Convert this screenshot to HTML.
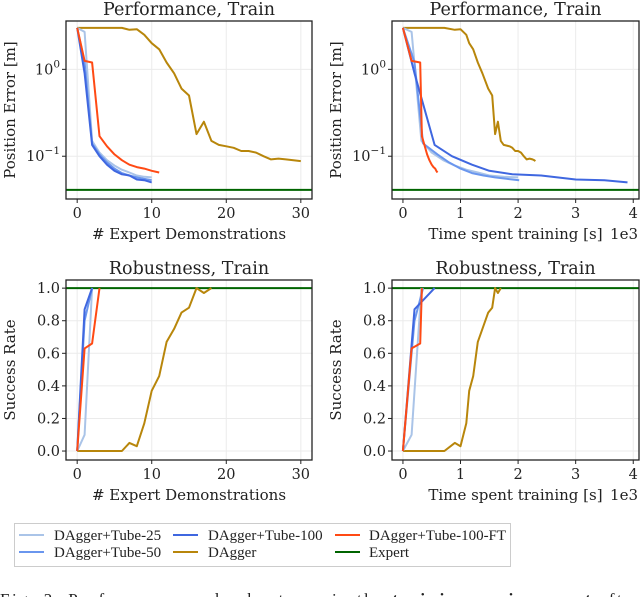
<!DOCTYPE html>
<html><head><meta charset="utf-8"><style>
body{margin:0;background:#fff;width:640px;height:597px;overflow:hidden}
svg{font-family:"DejaVu Serif","Liberation Serif",serif}
</style></head><body>
<svg id="fig" width="640" height="597" viewBox="0 0 640 597" xmlns="http://www.w3.org/2000/svg"></svg>
<script>
// ---- data ----
const demosShort = [0,1,2,3,4,5,6,7,8,9,10];
const demosFT = [0,1,2,3,4,5,6,7,8,9,10,11];
const demosDAgger = [0,1,2,3,4,5,6,7,8,9,10,11,12,13,14,15,16,17,18,19,20,21,22,23,24,25,26,27,28,29,30];
const errTube25 = [3,2.7,0.15,0.11,0.09,0.078,0.07,0.065,0.06,0.058,0.057];
const errTube50 = [3,1.2,0.14,0.105,0.085,0.072,0.064,0.06,0.057,0.055,0.053];
const errTube100 = [3,0.9,0.135,0.1,0.08,0.068,0.062,0.06,0.054,0.053,0.05];
const errFT = [3,1.25,1.2,0.17,0.13,0.105,0.09,0.08,0.075,0.072,0.068,0.065];
const errDAgger = [3,3,3,3,3,3,3,2.85,2.9,2.5,2.0,1.7,1.2,0.9,0.6,0.5,0.18,0.25,0.15,0.135,0.13,0.125,0.115,0.115,0.11,0.1,0.092,0.094,0.092,0.09,0.088];
const expertErr = 0.041;
const timeTube25 = [0,0.15,0.32,0.5,0.7,0.9,1.1,1.3,1.5,1.75,2.0];
const timeTube50 = [0,0.2,0.35,0.6,0.8,1.0,1.2,1.4,1.6,1.8,2.02];
const timeTube100 = [0,0.2,0.55,0.85,1.2,1.5,1.9,2.4,3.0,3.5,3.9];
const timeFT = [0,0.15,0.3,0.33,0.38,0.42,0.46,0.5,0.53,0.56,0.58,0.6];
const timeDAgger = [0,0.12,0.24,0.36,0.48,0.6,0.72,0.9,1.0,1.1,1.15,1.22,1.3,1.38,1.48,1.55,1.6,1.65,1.7,1.75,1.85,1.9,1.95,2.0,2.05,2.1,2.15,2.2,2.25,2.28,2.3];
const succTube25 = [0,0.1,1.0];
const succTube50 = [0,0.8,1.0];
const succTube100 = [0,0.87,1.0];
const succFT = [0,0.63,0.66,1.0];
const succDAgger = [0,0,0,0,0,0,0,0.05,0.03,0.17,0.37,0.46,0.67,0.75,0.85,0.88,1.0,0.97,1.0];
const expertSucc = 1.0;
const demoTicks = [0,10,20,30];
const timeTicks = [0,1,2,3,4];
const logTicks = [1,0.1];
const succTicks = [0,0.2,0.4,0.6,0.8,1.0];

const C = {t25:'#aac4e8', t50:'#6a96ee', t100:'#3f67e0', ft:'#ff4a14', dag:'#b8860b', exp:'#006400'};
const svg = document.getElementById('fig');
const NS = 'http://www.w3.org/2000/svg';
function mk(tag, attrs, parent){const e=document.createElementNS(NS,tag);for(const k in attrs)e.setAttribute(k,attrs[k]);(parent||svg).appendChild(e);return e;}

function panel(name, box, xdom, ydom, logY, xTicks, yTicks, yLabels, title, xlabel, ylabel, series, expertVal, offset){
  const g = mk('g',{});
  
  
  const xs = v => box.x0 + (v - xdom[0])/(xdom[1]-xdom[0])*(box.x1-box.x0);
  const ys = v => { const t = logY ? Math.log10(v) : v; const a = logY?Math.log10(ydom[0]):ydom[0], b = logY?Math.log10(ydom[1]):ydom[1]; return box.y1 - (t-a)/(b-a)*(box.y1-box.y0); };
  xTicks.forEach(t=>{ const l=mk('line',{x1:xs(t),x2:xs(t),y1:box.y0,y2:box.y1,stroke:'#ebebeb','stroke-width':1},g);  });
  yTicks.forEach(t=>{ const l=mk('line',{x1:box.x0,x2:box.x1,y1:ys(t),y2:ys(t),stroke:'#ebebeb','stroke-width':1},g);  });
  const clip = 'clip-'+name;
  const cp = mk('clipPath',{id:clip},g); mk('rect',{x:box.x0,y:box.y0,width:box.x1-box.x0,height:box.y1-box.y0},cp);
  const sg = mk('g',{'clip-path':'url(#'+clip+')'},g);
  const el = mk('line',{x1:box.x0,x2:box.x1,y1:ys(expertVal),y2:ys(expertVal),stroke:C.exp,'stroke-width':2},sg);
  
  
  series.forEach(s=>{
    const pts = s.x.map((xv,i)=>xs(xv).toFixed(1)+','+ys(s.y[i]).toFixed(1)).join(' ');
    const p = mk('polyline',{points:pts,fill:'none',stroke:s.c,'stroke-width':2,'stroke-linejoin':'round'},sg);
    
    
  });
  const fr = mk('rect',{x:box.x0,y:box.y0,width:box.x1-box.x0,height:box.y1-box.y0,fill:'none',stroke:'#222','stroke-width':1.3},g);
  
  
  xTicks.forEach(t=>{
    mk('line',{x1:xs(t),x2:xs(t),y1:box.y1,y2:box.y1+4,stroke:'#222'},g);
    const tx=mk('text',{x:xs(t),y:box.y1+19,'text-anchor':'middle','font-size':14.5,fill:'#222'},g); tx.textContent=t;
    
    
  });
  yTicks.forEach((t,i)=>{
    mk('line',{x1:box.x0-4,x2:box.x0,y1:ys(t),y2:ys(t),stroke:'#222'},g);
    const tx=mk('text',{x:box.x0-6,y:ys(t)+5,'text-anchor':'end','font-size':14.5,fill:'#222'},g);
    tx.innerHTML=yLabels[i];
    
    
  });
  const ti=mk('text',{x:(box.x0+box.x1)/2,y:box.y0-6,'text-anchor':'middle','font-size':17.5,fill:'#222'},g); ti.textContent=title;
  
  
  const xl=mk('text',{x:(box.x0+box.x1)/2,y:box.y1+40,'text-anchor':'middle','font-size':15,fill:'#222'},g); xl.textContent=xlabel;
  
  
  if(offset){const o=mk('text',{x:box.x1-1,y:box.y1+40,'text-anchor':'end','font-size':15,fill:'#222'},g); o.textContent=offset;
    
    }
  const yl=mk('text',{x:0,y:0,'text-anchor':'middle','font-size':15,fill:'#222',transform:`translate(${box.x0-51},${(box.y0+box.y1)/2}) rotate(-90)`},g); yl.textContent=ylabel;
  
  
}
const logLbl = ['10<tspan dy="-7" font-size="10.5">0</tspan>','10<tspan dy="-7" font-size="10.5">\u22121</tspan>'];
const succLbl = succTicks.map(v=>v.toFixed(1));
const topY=[0.0322,3.6];
panel('performance-demos',{x0:66,x1:312,y0:21,y1:199},[-1.5,31.5],topY,true,demoTicks,logTicks,logLbl,'Performance, Train','# Expert Demonstrations','Position Error [m]',[
 {n:'dagger',c:C.dag,x:demosDAgger,y:errDAgger},
 {n:'tube-25',c:C.t25,x:demosShort,y:errTube25},
 {n:'tube-50',c:C.t50,x:demosShort,y:errTube50},
 {n:'tube-100',c:C.t100,x:demosShort,y:errTube100},
 {n:'tube-100-ft',c:C.ft,x:demosFT,y:errFT}],expertErr,null);
panel('performance-time',{x0:392,x1:639,y0:21,y1:199},[-0.19,4.1],topY,true,timeTicks,logTicks,logLbl,'Performance, Train','Time spent training [s]','Position Error [m]',[
 {n:'dagger',c:C.dag,x:timeDAgger,y:errDAgger},
 {n:'tube-25',c:C.t25,x:timeTube25,y:errTube25},
 {n:'tube-50',c:C.t50,x:timeTube50,y:errTube50},
 {n:'tube-100',c:C.t100,x:timeTube100,y:errTube100},
 {n:'tube-100-ft',c:C.ft,x:timeFT,y:errFT}],expertErr,'1e3');
panel('robustness-demos',{x0:66,x1:312,y0:280,y1:460},[-1.5,31.5],[-0.055,1.05],false,demoTicks,succTicks,succLbl,'Robustness, Train','# Expert Demonstrations','Success Rate',[
 {n:'dagger',c:C.dag,x:demosDAgger.slice(0,succDAgger.length),y:succDAgger},
 {n:'tube-25',c:C.t25,x:demosShort.slice(0,3),y:succTube25},
 {n:'tube-50',c:C.t50,x:demosShort.slice(0,3),y:succTube50},
 {n:'tube-100',c:C.t100,x:demosShort.slice(0,3),y:succTube100},
 {n:'tube-100-ft',c:C.ft,x:demosFT.slice(0,4),y:succFT}],expertSucc,null);
panel('robustness-time',{x0:392,x1:639,y0:280,y1:460},[-0.19,4.1],[-0.055,1.05],false,timeTicks,succTicks,succLbl,'Robustness, Train','Time spent training [s]','Success Rate',[
 {n:'dagger',c:C.dag,x:timeDAgger.slice(0,succDAgger.length),y:succDAgger},
 {n:'tube-25',c:C.t25,x:timeTube25.slice(0,3),y:succTube25},
 {n:'tube-50',c:C.t50,x:timeTube50.slice(0,3),y:succTube50},
 {n:'tube-100',c:C.t100,x:timeTube100.slice(0,3),y:succTube100},
 {n:'tube-100-ft',c:C.ft,x:timeFT.slice(0,4),y:succFT}],expertSucc,'1e3');
</script>
<svg style="position:absolute;left:0;top:0" width="640" height="597">
 <g font-family="Liberation Serif, serif" font-size="15" fill="#222">
  <rect x="14.5" y="523.5" width="496" height="43" fill="#fff" stroke="#ccc"/>
  <g><line x1="19" x2="44" y1="535" y2="535" stroke="#aac4e8" stroke-width="2"/><text x="54" y="540">DAgger+Tube-25</text></g>
  <g><line x1="19" x2="44" y1="552" y2="552" stroke="#6a96ee" stroke-width="2"/><text x="54" y="557">DAgger+Tube-50</text></g>
  <g><line x1="173" x2="198" y1="535" y2="535" stroke="#3f67e0" stroke-width="2"/><text x="208" y="540">DAgger+Tube-100</text></g>
  <g><line x1="173" x2="198" y1="552" y2="552" stroke="#b8860b" stroke-width="2"/><text x="208" y="557">DAgger</text></g>
  <g><line x1="335" x2="360" y1="535" y2="535" stroke="#ff4a14" stroke-width="2"/><text x="369" y="540">DAgger+Tube-100-FT</text></g>
  <g><line x1="335" x2="360" y1="552" y2="552" stroke="#006400" stroke-width="2"/><text x="369" y="557">Expert</text></g>
 </g>
 <text x="0" y="605" font-family="Liberation Serif, serif" font-size="17" fill="#222" textLength="640">Fig. 2.   Performance and robustness in the <tspan font-style="italic" font-weight="bold">training environment</tspan> after</text>
</svg>
</body></html>
